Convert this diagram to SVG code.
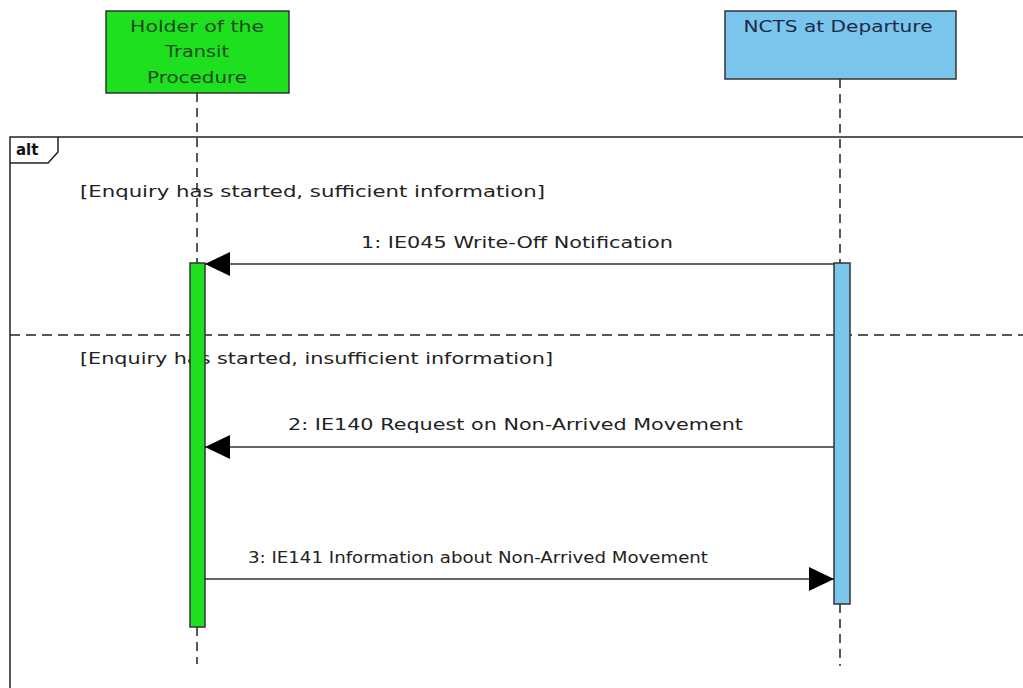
<svg xmlns="http://www.w3.org/2000/svg" width="1023" height="688" viewBox="0 0 1023 688">
<style>
.t{font-family:"DejaVu Sans","Liberation Sans",sans-serif;font-size:16.5px;fill:#222}
.h{font-family:"DejaVu Sans","Liberation Sans",sans-serif;font-size:16.5px;text-anchor:middle}
.life{stroke:#222;stroke-width:1.5;stroke-dasharray:9 6;fill:none}
.msg{stroke:#333;stroke-width:1.5;fill:none}
.box{stroke:#333;stroke-width:1.5}
</style>
<defs>
<marker id="ah" markerWidth="26" markerHeight="24" refX="25" refY="12" orient="auto" markerUnits="userSpaceOnUse">
<path d="M0,0 L25,12 L0,24 Z" fill="#000"/>
</marker>
</defs>
<rect width="1023" height="688" fill="#fff"/>
<g id="frame-alt">
<path d="M10,688 L10,137 L1023,137" fill="none" stroke="#222" stroke-width="1.5"/>
<path d="M10,163 L48,163 L58,152 L58,137" fill="none" stroke="#222" stroke-width="1.5"/>
<text x="16" y="155" style="font-family:'DejaVu Sans',sans-serif;font-size:15px;font-weight:bold;fill:#111">alt</text>
<line x1="10" y1="335" x2="1023" y2="335" stroke="#222" stroke-width="1.5" stroke-dasharray="10 6"/>
<text class="t" x="80" y="197" textLength="465" lengthAdjust="spacingAndGlyphs">[Enquiry has started, sufficient information]</text>
<text class="t" x="80" y="364" textLength="473" lengthAdjust="spacingAndGlyphs">[Enquiry has started, insufficient information]</text>
</g>
<g id="holder">
<rect class="box" x="106" y="11" width="183" height="82" fill="#1ee01e"/>
<text class="h" x="197" y="32" fill="#1d4a1d" textLength="134" lengthAdjust="spacingAndGlyphs">Holder of the</text>
<text class="h" x="197" y="57" fill="#1d4a1d" textLength="64" lengthAdjust="spacingAndGlyphs">Transit</text>
<text class="h" x="197" y="83" fill="#1d4a1d" textLength="100" lengthAdjust="spacingAndGlyphs">Procedure</text>
<path class="life" d="M197,93 L197,263 M197,627 L197,664"/>
<rect class="box" x="190" y="263" width="15" height="364" fill="#1ee01e"/>
</g>
<g id="ncts">
<rect class="box" x="725" y="11" width="231" height="68" fill="#7ac5ec"/>
<text class="h" x="838" y="32" fill="#1a2a45" textLength="189" lengthAdjust="spacingAndGlyphs">NCTS at Departure</text>
<path class="life" d="M840,79 L840,263 M840,604 L840,666"/>
<rect class="box" x="834" y="263" width="16" height="341" fill="#7ac5ec"/>
</g>
<g id="connectors">
<line class="msg" x1="834" y1="264" x2="205" y2="264" marker-end="url(#ah)"/>
<text class="t" x="361" y="248" textLength="312" lengthAdjust="spacingAndGlyphs">1: IE045 Write-Off Notification</text>
<line class="msg" x1="834" y1="447" x2="205" y2="447" marker-end="url(#ah)"/>
<text class="t" x="288" y="430" textLength="455" lengthAdjust="spacingAndGlyphs">2: IE140 Request on Non-Arrived Movement</text>
<line class="msg" x1="205" y1="579" x2="834" y2="579" marker-end="url(#ah)"/>
<text class="t" x="248" y="563" textLength="460" lengthAdjust="spacingAndGlyphs">3: IE141 Information about Non-Arrived Movement</text>
</g>
</svg>
